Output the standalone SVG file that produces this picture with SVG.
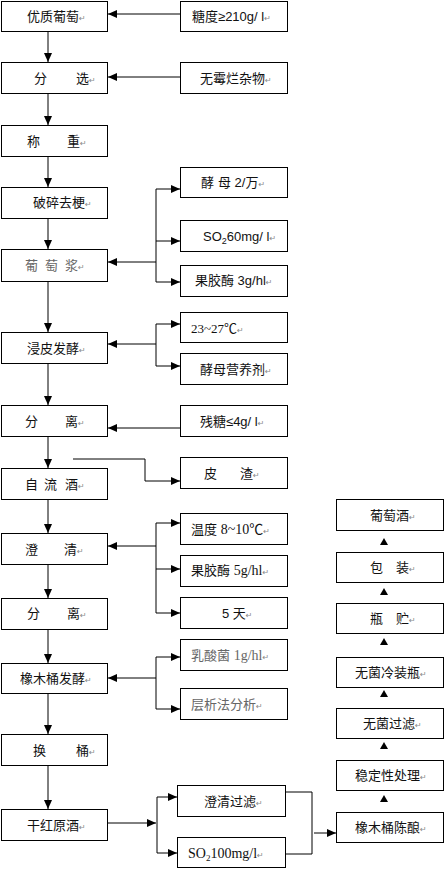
<svg xmlns="http://www.w3.org/2000/svg" width="445" height="869" viewBox="0 0 445 869">
<style>
.box{fill:#fff;stroke:#000;stroke-width:1}
.t{font-family:"Liberation Sans","Noto Sans CJK SC",sans-serif;font-size:13px;fill:#111}
.s{font-family:"Liberation Serif","Noto Sans CJK SC",serif;font-size:14px;fill:#111}
.g{fill:#666}
.pm{font-family:"DejaVu Sans",sans-serif;font-size:8px;fill:#888}
.sub{font-size:9px}
.c{fill:none;stroke:#000;stroke-width:1}
.tri{fill:#000}
</style>
<defs>
<marker id="a" markerUnits="userSpaceOnUse" markerWidth="10" markerHeight="8" refX="9" refY="4" orient="auto">
<path d="M0,0 L9,4 L0,8 z" fill="#000"/>
</marker>
</defs>
<rect width="445" height="869" fill="#fff"/>
<g id="connectors">
<path class="c" d="M48,31V62" marker-end="url(#a)"/>
<path class="c" d="M48,94V125" marker-end="url(#a)"/>
<path class="c" d="M48,157V187" marker-end="url(#a)"/>
<path class="c" d="M48,218V249" marker-end="url(#a)"/>
<path class="c" d="M48,281V332" marker-end="url(#a)"/>
<path class="c" d="M48,364V405" marker-end="url(#a)"/>
<path class="c" d="M48,437V468" marker-end="url(#a)"/>
<path class="c" d="M48,500V533" marker-end="url(#a)"/>
<path class="c" d="M48,565V598" marker-end="url(#a)"/>
<path class="c" d="M48,629V663" marker-end="url(#a)"/>
<path class="c" d="M48,694V734" marker-end="url(#a)"/>
<path class="c" d="M48,765V809" marker-end="url(#a)"/>
<path class="c" d="M180,14H108" marker-end="url(#a)"/>
<path class="c" d="M180,77H108" marker-end="url(#a)"/>
<path class="c" d="M156,189V282"/>
<path class="c" d="M156,189H180" marker-end="url(#a)"/>
<path class="c" d="M156,241H180" marker-end="url(#a)"/>
<path class="c" d="M156,282H180" marker-end="url(#a)"/>
<path class="c" d="M156,262H108" marker-end="url(#a)"/>
<path class="c" d="M156,324V366"/>
<path class="c" d="M156,324H180" marker-end="url(#a)"/>
<path class="c" d="M156,366H180" marker-end="url(#a)"/>
<path class="c" d="M156,344H108" marker-end="url(#a)"/>
<path class="c" d="M180,428H108" marker-end="url(#a)"/>
<path class="c" d="M73,459H145V481H180" marker-end="url(#a)"/>
<path class="c" d="M156,523V613"/>
<path class="c" d="M156,523H180" marker-end="url(#a)"/>
<path class="c" d="M156,569H180" marker-end="url(#a)"/>
<path class="c" d="M156,613H180" marker-end="url(#a)"/>
<path class="c" d="M156,546H108" marker-end="url(#a)"/>
<path class="c" d="M156,657V709"/>
<path class="c" d="M156,657H180" marker-end="url(#a)"/>
<path class="c" d="M156,709H180" marker-end="url(#a)"/>
<path class="c" d="M156,678H108" marker-end="url(#a)"/>
<path class="c" d="M108,823H156" marker-end="url(#a)"/>
<path class="c" d="M157,797V853"/>
<path class="c" d="M157,797H177" marker-end="url(#a)"/>
<path class="c" d="M157,853H177" marker-end="url(#a)"/>
<path class="c" d="M286,792H312V854H286"/>
<path class="c" d="M314,833H336" marker-end="url(#a)"/>
<path class="tri" d="M384,538L388,545H380z"/>
<path class="tri" d="M384,588L388,595H380z"/>
<path class="tri" d="M384,638L388,645H380z"/>
<path class="tri" d="M384,690L388,697H380z"/>
<path class="tri" d="M384,742L388,749H380z"/>
<path class="tri" d="M384,795L388,802H380z"/>
</g>
<g id="n1"><rect class="box" x="1.5" y="1.5" width="106" height="30"/><text class="t" x="27" y="21">优质葡萄<tspan class="pm">↵</tspan></text></g>
<g id="n2"><rect class="box" x="1.5" y="62.5" width="106" height="31"/><text class="t" y="83"><tspan x="34">分</tspan><tspan x="76">选</tspan><tspan class="pm">↵</tspan></text></g>
<g id="n3"><rect class="box" x="1.5" y="125.5" width="106" height="31"/><text class="t" y="146"><tspan x="27">称</tspan><tspan x="67">重</tspan><tspan class="pm">↵</tspan></text></g>
<g id="n4"><rect class="box" x="1.5" y="187.5" width="106" height="31"/><text class="t" x="33" y="207">破碎去梗<tspan class="pm">↵</tspan></text></g>
<g id="n5"><rect class="box" x="1.5" y="249.5" width="106" height="32"/><text class="t g" y="270"><tspan x="25">葡</tspan><tspan x="45">萄</tspan><tspan x="65">浆</tspan><tspan class="pm">↵</tspan></text></g>
<g id="n6"><rect class="box" x="1.5" y="332.5" width="106" height="31"/><text class="t" x="27" y="353">浸皮发酵<tspan class="pm">↵</tspan></text></g>
<g id="n7"><rect class="box" x="1.5" y="405.5" width="106" height="31"/><text class="t" y="426"><tspan x="25">分</tspan><tspan x="65">离</tspan><tspan class="pm">↵</tspan></text></g>
<g id="n8"><rect class="box" x="1.5" y="468.5" width="106" height="31"/><text class="t" y="489"><tspan x="25">自</tspan><tspan x="44">流</tspan><tspan x="65">酒</tspan><tspan class="pm">↵</tspan></text></g>
<g id="n9"><rect class="box" x="1.5" y="533.5" width="106" height="31"/><text class="t" y="554"><tspan x="25">澄</tspan><tspan x="64">清</tspan><tspan class="pm">↵</tspan></text></g>
<g id="n10"><rect class="box" x="1.5" y="598.5" width="106" height="31"/><text class="t" y="618"><tspan x="27">分</tspan><tspan x="67">离</tspan><tspan class="pm">↵</tspan></text></g>
<g id="n11"><rect class="box" x="1.5" y="663.5" width="106" height="30"/><text class="t" x="20" y="683">橡木桶发酵<tspan class="pm">↵</tspan></text></g>
<g id="n12"><rect class="box" x="1.5" y="734.5" width="106" height="31"/><text class="t" y="755"><tspan x="33">换</tspan><tspan x="76">桶</tspan><tspan class="pm">↵</tspan></text></g>
<g id="n13"><rect class="box" x="1.5" y="809.5" width="106" height="31"/><text class="t" x="27" y="830">干红原酒<tspan class="pm">↵</tspan></text></g>
<g id="r1"><rect class="box" x="180.5" y="1.5" width="107" height="30"/><text class="t" x="192" y="21">糖度≥210g/ l<tspan class="pm">↵</tspan></text></g>
<g id="r2"><rect class="box" x="180.5" y="62.5" width="107" height="31"/><text class="t" x="200" y="83">无霉烂杂物<tspan class="pm">↵</tspan></text></g>
<g id="r3"><rect class="box" x="180.5" y="167.5" width="107" height="30"/><text class="t" y="187"><tspan x="201">酵</tspan><tspan x="218">母 2/万</tspan><tspan class="pm">↵</tspan></text></g>
<g id="r4"><rect class="box" x="180.5" y="220.5" width="107" height="31"/><text class="t" x="203" y="241">SO<tspan class="sub" dy="3">2</tspan><tspan dy="-3">60mg/ l</tspan><tspan class="pm">↵</tspan></text></g>
<g id="r5"><rect class="box" x="180.5" y="265.5" width="107" height="31"/><text class="t" x="195" y="285">果胶酶 3g/hl<tspan class="pm">↵</tspan></text></g>
<g id="r6"><rect class="box" x="180.5" y="312.5" width="107" height="30"/><text class="s" x="191" y="333" style="font-size:13px">23~27℃<tspan class="pm">↵</tspan></text></g>
<g id="r7"><rect class="box" x="180.5" y="353.5" width="107" height="31"/><text class="t" x="200" y="374">酵母营养剂<tspan class="pm">↵</tspan></text></g>
<g id="r8"><rect class="box" x="180.5" y="405.5" width="107" height="31"/><text class="t" x="200" y="426">残糖≤4g/ l<tspan class="pm">↵</tspan></text></g>
<g id="r9"><rect class="box" x="180.5" y="457.5" width="107" height="31"/><text class="t" y="478"><tspan x="204">皮</tspan><tspan x="240">渣</tspan><tspan class="pm">↵</tspan></text></g>
<g id="r10"><rect class="box" x="180.5" y="513.5" width="107" height="31"/><text class="t" x="191" y="534">温度 <tspan class="s">8~10℃</tspan><tspan class="pm">↵</tspan></text></g>
<g id="r11"><rect class="box" x="180.5" y="555.5" width="107" height="31"/><text class="t" x="191" y="575">果胶酶 <tspan class="s">5g/hl</tspan><tspan class="pm">↵</tspan></text></g>
<g id="r12"><rect class="box" x="180.5" y="597.5" width="107" height="31"/><text class="t" x="222" y="618">5 天<tspan class="pm">↵</tspan></text></g>
<g id="r13"><rect class="box" x="180.5" y="639.5" width="107" height="31"/><text class="t g" x="191" y="660">乳酸菌 <tspan class="s g">1g/hl</tspan><tspan class="pm">↵</tspan></text></g>
<g id="r14"><rect class="box" x="180.5" y="688.5" width="107" height="31"/><text class="t g" x="191" y="709">层析法分析<tspan class="pm">↵</tspan></text></g>
<g id="r15"><rect class="box" x="177.5" y="785.5" width="108" height="31"/><text class="t" x="204" y="806">澄清过滤<tspan class="pm">↵</tspan></text></g>
<g id="r16"><rect class="box" x="177.5" y="837.5" width="108" height="30"/><text class="s" x="188" y="858">SO<tspan class="sub" dy="3">2</tspan><tspan dy="-3">100mg/l</tspan><tspan class="pm">↵</tspan></text></g>
<g id="f1"><rect class="box" x="336.5" y="499.5" width="107" height="31"/><text class="t" x="370" y="520">葡萄酒<tspan class="pm">↵</tspan></text></g>
<g id="f2"><rect class="box" x="336.5" y="552.5" width="107" height="30"/><text class="t" y="572"><tspan x="370">包</tspan><tspan x="396">装</tspan><tspan class="pm">↵</tspan></text></g>
<g id="f3"><rect class="box" x="336.5" y="603.5" width="107" height="30"/><text class="t" y="623"><tspan x="370">瓶</tspan><tspan x="396">贮</tspan><tspan class="pm">↵</tspan></text></g>
<g id="f4"><rect class="box" x="336.5" y="657.5" width="107" height="30"/><text class="t" x="355" y="677">无菌冷装瓶<tspan class="pm">↵</tspan></text></g>
<g id="f5"><rect class="box" x="336.5" y="708.5" width="107" height="30"/><text class="t" x="363" y="728">无菌过滤<tspan class="pm">↵</tspan></text></g>
<g id="f6"><rect class="box" x="336.5" y="760.5" width="107" height="30"/><text class="t" x="355" y="780">稳定性处理<tspan class="pm">↵</tspan></text></g>
<g id="f7"><rect class="box" x="336.5" y="812.5" width="107" height="30"/><text class="t" x="355" y="832">橡木桶陈酿<tspan class="pm">↵</tspan></text></g>
</svg>
